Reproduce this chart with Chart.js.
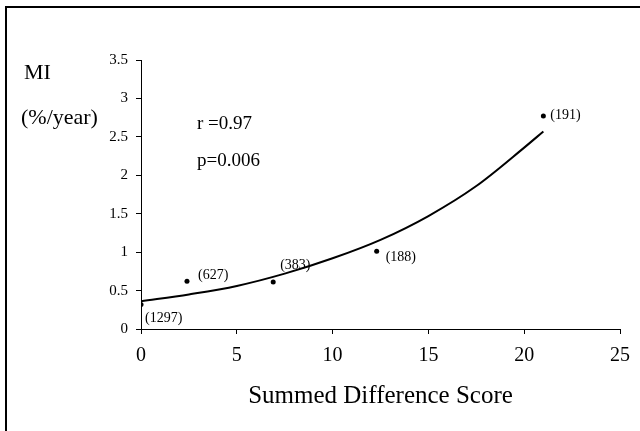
<!DOCTYPE html>
<html><head><meta charset="utf-8">
<script src="https://cdn.jsdelivr.net/npm/chart.js@4/dist/chart.umd.min.js"></script>
<style>
html,body{margin:0;padding:0;background:#fff;}
#wrap{position:relative;width:640px;height:431px;overflow:hidden;}
#frame{position:absolute;left:5px;top:6px;right:-4px;bottom:-4px;border-top:2px solid #000;border-left:2px solid #000;pointer-events:none;}
canvas{position:absolute;left:0;top:0;}
</style></head><body>
<div id="wrap"><canvas id="c" width="640" height="431"></canvas><div id="frame"></div></div>
<script>
// observed points: summed difference score vs MI rate, with cohort size labels
const scores = [0, 2.4, 6.9, 12.3, 21.0];
const miRates = [0.32, 0.62, 0.61, 1.01, 2.77];
const sampleSizes = ['(1297)', '(627)', '(383)', '(188)', '(191)'];
// fitted trend curve
const fitScores = [0, 2.5, 5, 7.5, 10, 12.5, 15, 17.5, 20, 21];
const fitRates = [0.36, 0.45, 0.56, 0.72, 0.92, 1.16, 1.47, 1.86, 2.36, 2.57];
// axes
const xTicks = [0, 5, 10, 15, 20, 25];
const yTicks = [0, 0.5, 1, 1.5, 2, 2.5, 3, 3.5];
const xTitle = 'Summed Difference Score';
const yTitleLines = ['MI', '(%/year)'];
const statLines = ['r =0.97', 'p=0.006'];

const SERIF = '"Liberation Serif", "Times New Roman", serif';
// label offsets (style) per point: dx, dy
const labelOffsets = [[4, 14], [11, -6], [7, -17], [9, 6], [7, -1]];

const annotPlugin = {
  id: 'annot',
  afterDatasetsDraw(chart) {
    const ctx = chart.ctx;
    const xs = chart.scales.x, ys = chart.scales.y;
    ctx.save();
    ctx.fillStyle = '#000';
    ctx.textAlign = 'left';
    ctx.textBaseline = 'middle';
    ctx.font = '14px ' + SERIF;
    sampleSizes.forEach((t, i) => {
      const px = xs.getPixelForValue(scores[i]);
      const py = ys.getPixelForValue(miRates[i]);
      ctx.fillText(t, px + labelOffsets[i][0], py + labelOffsets[i][1]);
    });
    ctx.font = '22px ' + SERIF;
    ctx.fillText(yTitleLines[0], 24, 73);
    ctx.fillText(yTitleLines[1], 21, 118);
    ctx.font = '19px ' + SERIF;
    ctx.fillText(statLines[0], 197, 124);
    ctx.fillText(statLines[1], 197, 161);
    ctx.restore();
  }
};

new Chart(document.getElementById('c'), {
  type: 'scatter',
  data: {
    datasets: [
      {
        label: 'fit',
        data: fitScores.map((x, i) => ({x, y: fitRates[i]})),
        showLine: true,
        borderColor: '#000',
        borderWidth: 2,
        pointRadius: 0,
        cubicInterpolationMode: 'monotone',
        fill: false
      },
      {
        label: 'observed',
        data: scores.map((x, i) => ({x, y: miRates[i]})),
        pointRadius: 2.5,
        pointBackgroundColor: '#000',
        pointBorderColor: '#000',
        pointBorderWidth: 0,
        showLine: false
      }
    ]
  },
  options: {
    responsive: false,
    animation: false,
    devicePixelRatio: 1,
    layout: { padding: { left: 0, top: 60, right: 16, bottom: 0 } },
    plugins: { legend: { display: false }, tooltip: { enabled: false } },
    scales: {
      x: {
        type: 'linear', min: 0, max: 25,
        afterBuildTicks: s => { s.ticks = xTicks.map(v => ({value: v})); },
        afterFit: s => { s.height = 102; },
        ticks: { color: '#000', font: { family: SERIF, size: 20 }, padding: 10 },
        grid: { drawOnChartArea: false, drawTicks: true, tickLength: 5, color: '#000' },
        border: { color: '#000', width: 1 },
        title: { display: true, text: xTitle, color: '#000', font: { family: SERIF, size: 25 }, padding: { top: 4, bottom: 20 } }
      },
      y: {
        type: 'linear', min: 0, max: 3.5,
        afterBuildTicks: s => { s.ticks = yTicks.map(v => ({value: v})); },
        afterFit: s => { s.width = 141; },
        ticks: { color: '#000', font: { family: SERIF, size: 15 }, padding: 8, callback: v => String(v) },
        grid: { drawOnChartArea: false, drawTicks: true, tickLength: 5, color: '#000' },
        border: { color: '#000', width: 1 }
      }
    }
  },
  plugins: [annotPlugin]
});
</script>
</body></html>
